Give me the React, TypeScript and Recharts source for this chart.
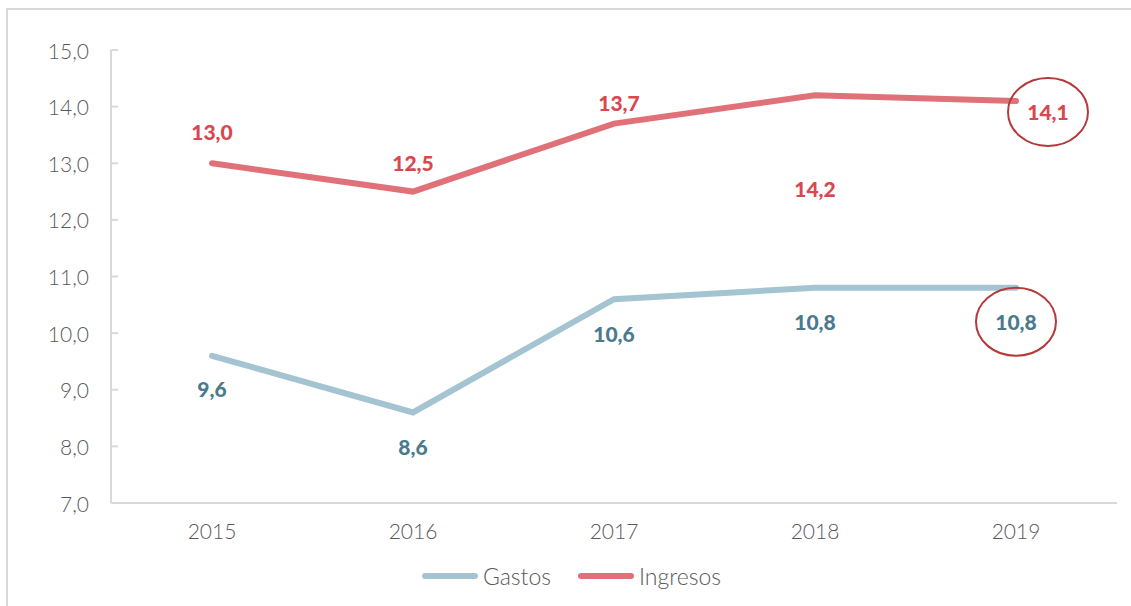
import { CartesianGrid, Legend, Line, LineChart, XAxis, YAxis } from "recharts";

const years = ["2015", "2016", "2017", "2018", "2019"];
const gastos = [9.6, 8.6, 10.6, 10.8, 10.8];
const ingresos = [13.0, 12.5, 13.7, 14.2, 14.1];
const yTicks = [7, 8, 9, 10, 11, 12, 13, 14, 15];

const chartData = years.map((year, i) => ({ year, gastos: gastos[i], ingresos: ingresos[i] }));

const GASTOS_LINE = "#a3c4d0";
const GASTOS_TEXT = "#4a7a8c";
const INGRESOS_LINE = "#e07178";
const INGRESOS_TEXT = "#d9474f";
const CIRCLE = "#b5393a";
const AXIS = "#d9d9d9";
const TEXT = "#595959";
const FONT = "Lato, 'Open Sans', sans-serif";

// label offsets relative to each point (dx, dy)
const ingresosOffsets: [number, number][] = [[0, -32], [0, -29], [5, -21], [0, 93], [32, 11]];
const gastosOffsets: [number, number][] = [[0, 33], [0, 34], [0, 34], [0, 34], [0, 34]];

const fmt = (v: number) => v.toFixed(1).replace(".", ",");

function makeLabel(offsets: [number, number][], color: string, circled: number) {
  return function PointLabel(props: any) {
    const { x, y, value, index } = props;
    const [dx, dy] = offsets[index] ?? [0, 0];
    const cx = x + dx;
    const cy = y + dy;
    return (
      <g>
        {index === circled && (
          <ellipse cx={cx} cy={cy} rx={40} ry={34} fill="none" stroke={CIRCLE} strokeWidth={2} />
        )}
        <text
          x={cx}
          y={cy}
          textAnchor="middle"
          dominantBaseline="central"
          fill={color}
          fontFamily={FONT}
          fontWeight={900}
          fontSize={21}
        >
          {fmt(value)}
        </text>
      </g>
    );
  };
}

function YTick({ x, y, payload }: any) {
  return (
    <g>
      <line x1={x} x2={x + 7} y1={y} y2={y} stroke={AXIS} strokeWidth={2} />
      <text
        x={x - 22}
        y={y}
        textAnchor="end"
        dominantBaseline="central"
        fill={TEXT}
        fontFamily={FONT}
        fontWeight={300}
        fontSize={21}
      >
        {fmt(payload.value)}
      </text>
    </g>
  );
}

function LegendContent() {
  const items = [
    { name: "Gastos", color: GASTOS_LINE },
    { name: "Ingresos", color: INGRESOS_LINE },
  ];
  return (
    <div style={{ height: 40, display: "flex", justifyContent: "center", alignItems: "center", gap: 26, paddingLeft: 14 }}>
      {items.map((it) => (
        <div key={it.name} style={{ display: "flex", alignItems: "center", gap: 4 }}>
          <svg width={58} height={8}>
            <line x1={4} x2={54} y1={4} y2={4} stroke={it.color} strokeWidth={6} strokeLinecap="round" />
          </svg>
          <span style={{ fontFamily: FONT, fontSize: 23, fontWeight: 300, color: TEXT }}>{it.name}</span>
        </div>
      ))}
    </div>
  );
}

export default function App() {
  return (
    <div style={{ position: "fixed", left: 0, top: 0, width: 1131, height: 606, background: "#fff", overflow: "hidden" }}>
      <div
        style={{
          position: "absolute",
          left: 6,
          top: 8,
          width: 1300,
          height: 800,
          borderTop: `2px solid ${AXIS}`,
          borderLeft: `2px solid ${AXIS}`,
        }}
      />
      <div style={{ position: "absolute", left: 0, top: 0 }}>
        <LineChart width={1131} height={606} data={chartData} margin={{ top: 50, right: 14, bottom: 0, left: 11 }}>
          <CartesianGrid horizontal={false} vertical={false} />
          <XAxis
            dataKey="year"
            padding={{ left: 101, right: 101 }}
            tickLine={false}
            tickSize={0}
            tickMargin={21}
            height={63}
            axisLine={{ stroke: AXIS, strokeWidth: 2 }}
            tick={{ fill: TEXT, fontFamily: FONT, fontWeight: 300, fontSize: 21 }}
          />
          <YAxis
            domain={[7, 15]}
            ticks={yTicks}
            width={100}
            tickLine={false}
            tickSize={0}
            tickMargin={0}
            axisLine={{ stroke: AXIS, strokeWidth: 2 }}
            tick={<YTick />}
          />
          <Legend verticalAlign="bottom" content={<LegendContent />} wrapperStyle={{ bottom: 10 }} />
          <Line
            dataKey="gastos"
            name="Gastos"
            stroke={GASTOS_LINE}
            strokeWidth={6}
            strokeLinecap="round"
            dot={false}
            activeDot={false}
            isAnimationActive={false}
            label={makeLabel(gastosOffsets, GASTOS_TEXT, 4)}
          />
          <Line
            dataKey="ingresos"
            name="Ingresos"
            stroke={INGRESOS_LINE}
            strokeWidth={6}
            strokeLinecap="round"
            dot={false}
            activeDot={false}
            isAnimationActive={false}
            label={makeLabel(ingresosOffsets, INGRESOS_TEXT, 4)}
          />
        </LineChart>
      </div>
    </div>
  );
}
